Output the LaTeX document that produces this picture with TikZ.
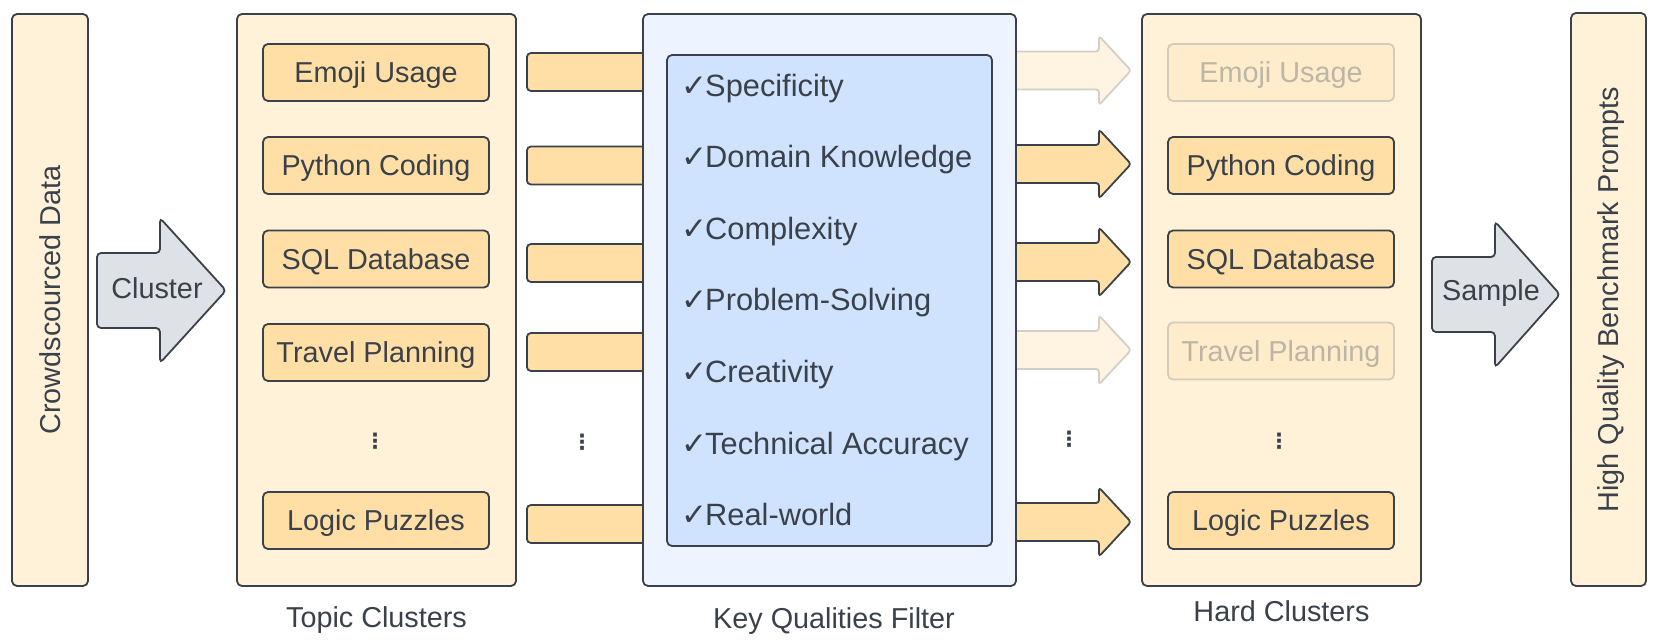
\documentclass[tikz,border=0pt]{standalone}
\usepackage{fontspec}
\setmainfont{Liberation Sans}
\newfontfamily\symfont{DejaVu Sans}
\newfontfamily\symbfont{DejaVu Sans Bold}
\usetikzlibrary{calc}
\definecolor{ink}{HTML}{3A414A}
\definecolor{cream}{HTML}{FFF2D9}
\definecolor{orng}{HTML}{FFDFA6}
\definecolor{bluea}{HTML}{EDF4FF}
\definecolor{blueb}{HTML}{CFE3FF}
\definecolor{grayarr}{HTML}{DEE2E7}
\definecolor{fdraw}{HTML}{D3CBBD}
\definecolor{ffill}{HTML}{FEECCB}
\definecolor{ftext}{HTML}{BDB5A6}
\definecolor{fadraw}{HTML}{D2CEC8}
\definecolor{fafill}{HTML}{FFF3E2}
\newcommand\myfs{\fontsize{28.8pt}{34pt}\selectfont}
\newcommand\myqfs{\fontsize{30.8pt}{36pt}\selectfont}
\newcommand\chk{\makebox[24pt][l]{\symfont\fontsize{31pt}{31pt}\selectfont ✓}}
\newcommand\mydots{{\symbfont\fontsize{21pt}{21pt}\selectfont ⋮}}
% #1 style, #2 start, #3 tip, #4 body half height, #5 head half height, #6 head length
\newcommand\blockarrow[6]{\draw[#1] let \p1=(#2), \p2=(#3) in
  (\x1,\y1+#4) -- (\x2-#6,\y1+#4) -- (\x2-#6,\y1+#5) -- (\x2,\y1) --
  (\x2-#6,\y1-#5) -- (\x2-#6,\y1-#4) -- (\x1,\y1-#4) -- cycle;}
\begin{document}
\begin{tikzpicture}[x=1pt,y=-1pt,
  base/.style={line width=1.8pt, draw=ink, text=ink},
  col/.style={base, fill=cream, rounded corners=5pt, inner sep=0pt, font=\myfs,
    text height=20.6pt, text depth=0pt},
  item/.style={base, fill=orng, rounded corners=5pt, minimum width=226pt,
    minimum height=57pt, font=\myfs, text height=20.6pt, text depth=0pt, inner sep=0pt},
  fitem/.style={item, draw=fdraw, fill=ffill, text=ftext},
  lbl/.style={font=\myfs, text=ink, inner sep=0pt, anchor=base},
  qual/.style={font=\myqfs, text=ink, inner sep=0pt, anchor=base west},
  dotn/.style={text=ink, inner sep=0pt},
  bigarrow/.style={base, fill=grayarr, rounded corners=4pt},
  arr/.style={base, fill=orng, rounded corners=3pt},
  farr/.style={line width=1.8pt, draw=fadraw, fill=fafill, rounded corners=3pt},
  stubbox/.style={base, fill=orng, rounded corners=4pt, minimum width=140pt,
    minimum height=38pt, inner sep=0pt, anchor=west},
  atext/.style={font=\myfs, text=ink, inner sep=0pt, text height=20.6pt, text depth=0pt}
]
\useasboundingbox (0,0) rectangle (1660,644);

% columns
\node[col, rotate=90, minimum width=572pt, minimum height=76pt] (crowd) at (50,300) {Crowdscourced Data};
\node[col, minimum width=279pt, minimum height=572pt] (topic) at (376.5,300) {};
\node[col, minimum width=279pt, minimum height=572pt] (hard) at (1281.5,300) {};
\node[col, rotate=90, minimum width=573pt, minimum height=75pt] (hq) at (1608.5,299.5) {High Quality Benchmark Prompts};

% cluster arrow
\coordinate (ca) at (97,290.5);
\coordinate (cb) at (226,290.5);
\blockarrow{bigarrow}{ca}{cb}{37.5pt}{72.5pt}{66pt}
\node[atext] (clt) at (157,288) {Cluster};

% sample arrow
\coordinate (sa) at (1432,294.5);
\coordinate (sb) at (1560,294.5);
\blockarrow{bigarrow}{sa}{sb}{37.5pt}{73pt}{65pt}
\node[atext] (smt) at (1491,290.5) {Sample};

% topic items
\node[item] (t1) at (376,72.5) {Emoji Usage};
\node[item] (t2) at (376,165.5) {Python Coding};
\node[item] (t3) at (376,259) {SQL Database};
\node[item] (t4) at (376,352.5) {Travel Planning};
\node[dotn] (t5) at (375,441) {\mydots};
\node[item] (t6) at (376,520.5) {Logic Puzzles};
\node[lbl] (topicl) at (376.5,627) {Topic Clusters};

% hard items
\node[fitem] (h1) at (1281,72.5) {Emoji Usage};
\node[item] (h2) at (1281,165.5) {Python Coding};
\node[item] (h3) at (1281,259) {SQL Database};
\node[fitem] (h4) at (1281,351) {Travel Planning};
\node[dotn] (h5) at (1279,441) {\mydots};
\node[item] (h6) at (1281,520.5) {Logic Puzzles};
\node[lbl] (hardl) at (1281.5,621) {Hard Clusters};

% stubs into filter
\node[stubbox] (s1) at (526,72) {};
\node[stubbox] (s2) at (526,165.5) {};
\node[stubbox] (s3) at (526,263) {};
\node[stubbox] (s4) at (526,352) {};
\node[dotn] (s5) at (582,442) {\mydots};
\node[stubbox] (s6) at (526,524) {};

% arrows out of filter
\coordinate (r1a) at (1000,70.5);  \coordinate (r1b) at (1131,70.5);
\coordinate (r2a) at (1000,164);   \coordinate (r2b) at (1131,164);
\coordinate (r3a) at (1000,262);   \coordinate (r3b) at (1131,262);
\coordinate (r4a) at (1000,350);   \coordinate (r4b) at (1131,350);
\coordinate (r6a) at (1000,522);   \coordinate (r6b) at (1131,522);
\blockarrow{farr}{r1a}{r1b}{19pt}{34.5pt}{32pt}
\blockarrow{arr}{r2a}{r2b}{19pt}{34.5pt}{32pt}
\blockarrow{arr}{r3a}{r3b}{19pt}{34.5pt}{32pt}
\blockarrow{farr}{r4a}{r4b}{19pt}{34.5pt}{32pt}
\blockarrow{arr}{r6a}{r6b}{19pt}{34.5pt}{32pt}
\node[dotn] (r5) at (1069,439) {\mydots};

% filter
\node[base, fill=bluea, rounded corners=5pt, minimum width=373pt, minimum height=572pt, inner sep=0pt] (filt) at (829.5,300) {};
\node[base, fill=blueb, rounded corners=5pt, minimum width=325pt, minimum height=491pt, inner sep=0pt] (filti) at (829.5,300.5) {};
\node[qual] (q1) at (681,96.5) {\chk Specificity};
\node[qual] (q2) at (681,168) {\chk Domain Knowledge};
\node[qual] (q3) at (681,239.5) {\chk Complexity};
\node[qual] (q4) at (681,311) {\chk Problem-Solving};
\node[qual] (q5) at (681,382.5) {\chk Creativity};
\node[qual] (q6) at (681,454) {\chk Technical Accuracy};
\node[qual] (q7) at (681,525.5) {\chk Real-world};
\node[lbl] (filtl) at (834,628) {Key Qualities Filter};
\end{tikzpicture}
\end{document}
